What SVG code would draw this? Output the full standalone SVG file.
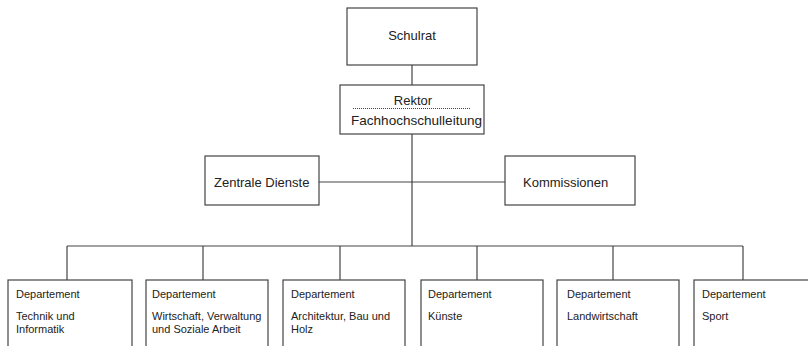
<svg xmlns="http://www.w3.org/2000/svg" width="808" height="346" viewBox="0 0 808 346">
<style>
.box{fill:#fff;stroke:#444;stroke-width:1.2}
.ln{stroke:#444;stroke-width:1.2;fill:none}
.t{font-family:"Liberation Sans",Arial,sans-serif;fill:#222}
.big{font-size:13px}
.sm{font-size:11px}
</style>
<rect width="808" height="346" fill="#fff"/>
<g id="connectors">
<line class="ln" x1="412" y1="65" x2="412" y2="85"/>
<line class="ln" x1="412" y1="134" x2="412" y2="246"/>
<line class="ln" x1="319" y1="182" x2="505" y2="182"/>
<line class="ln" x1="67" y1="246" x2="743" y2="246"/>
<line class="ln" x1="67" y1="246" x2="67" y2="280"/>
<line class="ln" x1="203" y1="246" x2="203" y2="280"/>
<line class="ln" x1="340" y1="246" x2="340" y2="280"/>
<line class="ln" x1="477" y1="246" x2="477" y2="280"/>
<line class="ln" x1="613" y1="246" x2="613" y2="280"/>
<line class="ln" x1="743" y1="246" x2="743" y2="280"/>
</g>
<g id="schulrat">
<rect class="box" x="347" y="8" width="130" height="57"/>
<text class="t big" x="412" y="40" text-anchor="middle">Schulrat</text>
</g>
<g id="rektor">
<rect class="box" x="340" y="85" width="144" height="49"/>
<text class="t big" x="413" y="105" text-anchor="middle">Rektor</text>
<line x1="353" y1="108.5" x2="470" y2="108.5" stroke="#444" stroke-width="1" stroke-dasharray="1,1"/>
<text class="t big" x="416.5" y="125" text-anchor="middle" textLength="131" lengthAdjust="spacingAndGlyphs">Fachhochschulleitung</text>
</g>
<g id="zentrale">
<rect class="box" x="205" y="156" width="114" height="49"/>
<text class="t big" x="214" y="187">Zentrale Dienste</text>
</g>
<g id="kommissionen">
<rect class="box" x="505" y="156" width="130" height="49"/>
<text class="t big" x="523" y="187">Kommissionen</text>
</g>
<g id="dep1">
<rect class="box" x="8" y="280" width="124" height="80"/>
<text class="t sm" x="16" y="298">Departement</text>
<text class="t sm" x="16" y="320">Technik und</text>
<text class="t sm" x="16" y="333">Informatik</text>
</g>
<g id="dep2">
<rect class="box" x="146" y="280" width="122" height="80"/>
<text class="t sm" x="152" y="298">Departement</text>
<text class="t sm" x="152" y="320">Wirtschaft, Verwaltung</text>
<text class="t sm" x="152" y="333">und Soziale Arbeit</text>
</g>
<g id="dep3">
<rect class="box" x="283" y="280" width="122" height="80"/>
<text class="t sm" x="291" y="298">Departement</text>
<text class="t sm" x="291" y="320">Architektur, Bau und</text>
<text class="t sm" x="291" y="333">Holz</text>
</g>
<g id="dep4">
<rect class="box" x="421" y="280" width="122" height="80"/>
<text class="t sm" x="428" y="298">Departement</text>
<text class="t sm" x="428" y="320">Künste</text>
</g>
<g id="dep5">
<rect class="box" x="557" y="280" width="122" height="80"/>
<text class="t sm" x="567" y="298">Departement</text>
<text class="t sm" x="567" y="320">Landwirtschaft</text>
</g>
<g id="dep6">
<rect class="box" x="694" y="280" width="124" height="80"/>
<text class="t sm" x="702" y="298">Departement</text>
<text class="t sm" x="702" y="320">Sport</text>
</g>
</svg>
